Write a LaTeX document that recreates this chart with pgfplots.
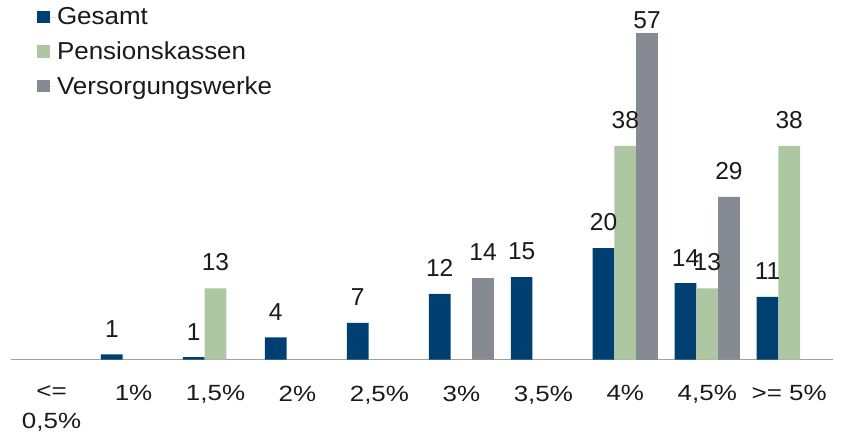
\documentclass[border=0pt]{standalone}
\usepackage{fontspec}
\setmainfont{Liberation Sans}
\newfontfamily\legfont[FakeStretch=1.06]{Liberation Sans}
\newfontfamily\tickfont[FakeStretch=1.18]{Liberation Sans}
\usepackage{pgfplots}
\pgfplotsset{compat=1.18}
\definecolor{cGes}{HTML}{003F72}
\definecolor{cPK}{HTML}{AEC7A3}
\definecolor{cVW}{HTML}{868A92}
\definecolor{cAx}{HTML}{A0A0A0}
\definecolor{cTxt}{HTML}{1A1A1A}
\begin{document}
\begin{tikzpicture}
\begin{axis}[
  at={(10.6pt,76.5pt)}, anchor=south west,
  scale only axis, width=819.6pt, height=339pt,
  xmin=-0.5, xmax=9.5, ymin=0, ymax=60,
  axis x line=bottom, axis y line=none,
  x axis line style={cAx, line width=1.2pt, -, shorten >=-3pt},
  xtick={0,...,9}, major tick length=0pt,
  xticklabels={{<=\\0,5\%},1\%,{1,5\%},2\%,{2,5\%},3\%,{3,5\%},4\%,{4,5\%},{>= 5\%}},
  xticklabel style={anchor=north, inner sep=0pt, yshift=-26pt, align=center, text=cTxt,
    font=\tickfont\fontsize{22}{30}\selectfont},
  /pgf/number format/assume math mode=true,
  font=\fontsize{24.5}{29}\selectfont,
  ybar=0pt, bar width=0.265,
  clip=false,
  point meta=explicit symbolic,
  nodes near coords={\pgfplotspointmeta},
  nodes near coords style={anchor=south, inner sep=0pt, yshift=17pt, text=cTxt},
  legend style={at={(0.032,1.041)}, anchor=north west, draw=none, fill=none,
    row sep=13.5pt, inner sep=0pt, nodes={inner sep=1pt, text=cTxt},
    font=\legfont\fontsize{24.5}{29}\selectfont},
  legend cell align=left,
  legend image code/.code={\fill[#1] (0pt,-6pt) rectangle (13.4pt,6.5pt); \path (0pt,0pt) -- (19pt,0pt);},
]
\addplot[fill=cGes, draw=none, bar shift=-0.265] coordinates {
 (1,0.9) [1] (2,0.4) [1] (3,3.9) [4] (4,6.5) [7] (5,11.6) [12]
 (6,14.6) [15] (7,19.7) [20] (8,13.5) [14] (9,11.1) [11]};
\addplot[fill=cPK, draw=none, bar shift=0] coordinates {
 (2,12.6) [13] (7,37.8) [38] (8,12.6) [13] (9,37.8) [38]};
\addplot[fill=cVW, draw=none, bar shift=0.265] coordinates {
 (5,14.4) [14] (8,28.8) [29]};
\addplot[fill=cVW, draw=none, bar shift=0.265, forget plot,
  nodes near coords style={yshift=-13pt}] coordinates {
 (7,57.8) [57]};
\legend{Gesamt,Pensionskassen,Versorgungswerke}
\end{axis}
\pgfresetboundingbox
\useasboundingbox (0,0) rectangle (845pt,436pt);
\end{tikzpicture}
\end{document}
